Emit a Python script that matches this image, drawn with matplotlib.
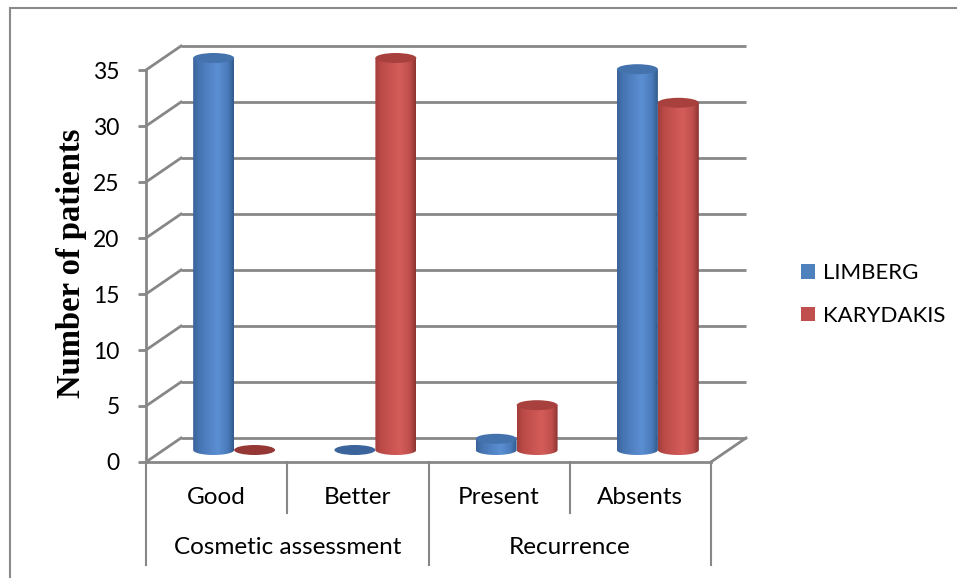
import numpy as np
import matplotlib
matplotlib.use("Agg")
import matplotlib.pyplot as plt
from matplotlib.patches import Ellipse, PathPatch, Patch, Rectangle
from matplotlib.path import Path
from matplotlib.colors import LinearSegmentedColormap

# ---- data ----
categories = ["Good", "Better", "Present", "Absents"]
groups = ["Cosmetic assessment", "Recurrence"]
group_members = [(0, 1), (2, 3)]
series = ["LIMBERG", "KARYDAKIS"]
limberg = [35, 0, 1, 34]
karydakis = [0, 35, 4, 31]
y_ticks = [0, 5, 10, 15, 20, 25, 30, 35]
y_label = "Number of patients"

# ---- style ----
W, H, DPI = 957, 578, 100
GRID = "#878787"
BLUE, RED = "#4F81BD", "#C0504D"
SANS = ["Lato", "DejaVu Sans"]
FS_TICK, FS_CAT, FS_LEG = 16.5, 17.5, 16
blue_cmap = LinearSegmentedColormap.from_list(
    "cyl_blue", [(0, "#3b6398"), (0.15, "#4674b2"), (0.6, "#5b8fd3"),
                 (0.85, "#4a7bbb"), (1, "#325a8b")])
red_cmap = LinearSegmentedColormap.from_list(
    "cyl_red", [(0, "#a33e3b"), (0.15, "#bb4a47"), (0.6, "#d45d59"),
                (0.85, "#bf4f4c"), (1, "#8c3431")])
styles = [
    dict(cmap=blue_cmap, top="#4472ad", flat="#3a649b", legend=BLUE),
    dict(cmap=red_cmap, top="#a8413e", flat="#953735", legend=RED),
]
values = [limberg, karydakis]

plt.rcParams["font.family"] = SANS
fig = plt.figure(figsize=(W / DPI, H / DPI), dpi=DPI)
fig.patch.set_facecolor("white")

# front plane of the 3-D box (pixels)
L, R, B, T = 146, 711, 462, 70
DEPTH_X, DEPTH_Y = 35, 24          # back wall offset in pixels
ax = fig.add_axes([L / W, 1 - B / H, (R - L) / W, (B - T) / H])
ax.patch.set_visible(False)
x_lo, x_hi = -0.5, len(categories) - 0.5
ax.set_xlim(x_lo, x_hi)
ax.set_ylim(0, y_ticks[-1])

# pixels per data unit
sx = (R - L) / (x_hi - x_lo)
sy = (B - T) / y_ticks[-1]
ddx, ddy = DEPTH_X / sx, DEPTH_Y / sy

# back wall grid and side-wall diagonals
for v in y_ticks:
    ax.plot([x_lo + ddx, x_hi + ddx], [v + ddy, v + ddy], color=GRID, lw=2,
            clip_on=False, zorder=1, solid_capstyle="butt")
    ax.plot([x_lo, x_lo + ddx], [v, v + ddy], color=GRID, lw=2,
            clip_on=False, zorder=1)
ax.plot([x_hi, x_hi + ddx], [0, ddy], color=GRID, lw=2, clip_on=False, zorder=1)

# cylinders
BW = 0.29
EH = 5.0 / sy    # half height of the ellipse caps
theta = np.linspace(np.pi, 2 * np.pi, 60)
grad = np.linspace(0, 1, 256).reshape(1, -1)
for s, (vals, st) in enumerate(zip(values, styles)):
    for i, v in enumerate(vals):
        xc = i + (s - 0.5) * BW + ddx / 2
        yb = ddy / 2
        hw = BW / 2
        if v <= 0:
            ax.add_patch(Ellipse((xc, yb), 2 * hw, 2 * EH, facecolor=st["flat"],
                                 edgecolor="none", clip_on=False, zorder=3))
            continue
        verts = [(xc - hw, yb + v), (xc - hw, yb)]
        verts += list(zip(xc + hw * np.cos(theta), yb + EH * np.sin(theta)))
        verts += [(xc + hw, yb + v), (xc - hw, yb + v)]
        body = PathPatch(Path(verts), facecolor="none", edgecolor="none",
                         transform=ax.transData)
        ax.add_patch(body)
        im = ax.imshow(grad, cmap=st["cmap"], aspect="auto",
                       extent=(xc - hw, xc + hw, yb - EH, yb + v),
                       interpolation="bilinear", zorder=3)
        im.set_clip_path(body)
        im.set_clip_box(fig.bbox)
        ax.add_patch(Ellipse((xc, yb + v), 2 * hw, 2 * EH, facecolor=st["top"],
                             edgecolor="none", clip_on=False, zorder=4))

ax.set_xlim(x_lo, x_hi)
ax.set_ylim(0, y_ticks[-1])

# axis lines and ticks
for side in ("top", "right"):
    ax.spines[side].set_visible(False)
for side in ("left", "bottom"):
    ax.spines[side].set_color(GRID)
    ax.spines[side].set_linewidth(2)
    ax.spines[side].set_zorder(2)
ax.set_yticks(y_ticks)
ax.set_yticklabels([str(t) for t in y_ticks])
ax.tick_params(axis="y", length=6, width=2, color=GRID, pad=13,
               labelsize=FS_TICK)
ax.set_xticks([])

# category table under the floor
for xe in [x_lo, 1.5, x_hi]:
    ax.plot([xe, xe], [0, -103 / sy], color=GRID, lw=1.5, clip_on=False)
for xe in [0.5, 2.5]:
    ax.plot([xe, xe], [0, -51 / sy], color=GRID, lw=1.5, clip_on=False)
for i, c in enumerate(categories):
    ax.text(i, -35 / sy, c, ha="center", va="center", fontsize=FS_CAT)
for g, (a, b) in zip(groups, group_members):
    ax.text((a + b) / 2, -86 / sy, g, ha="center", va="center",
            fontsize=FS_CAT)

# axis title
fig.text(72 / W, 1 - 263 / H, y_label, rotation=90, ha="center", va="center",
         fontsize=23.5, fontweight="bold", family=["Liberation Serif"])

# legend
handles = [Patch(facecolor=st["legend"], edgecolor="none") for st in styles]
fig.legend(handles, series, loc="center left",
           bbox_to_anchor=(801 / W, 1 - 294.5 / H), frameon=False,
           fontsize=FS_LEG, handlelength=0.63, handleheight=0.63,
           handletextpad=0.36, labelspacing=1.0, borderpad=0,
           borderaxespad=0)

# outer frame
fig.add_artist(Rectangle((10 / W, -0.1), 1.2, 1.1 - 8 / H,
                         transform=fig.transFigure, fill=False,
                         edgecolor="#8a8a8a", lw=1.5))

fig.savefig("out.png", dpi=DPI)
